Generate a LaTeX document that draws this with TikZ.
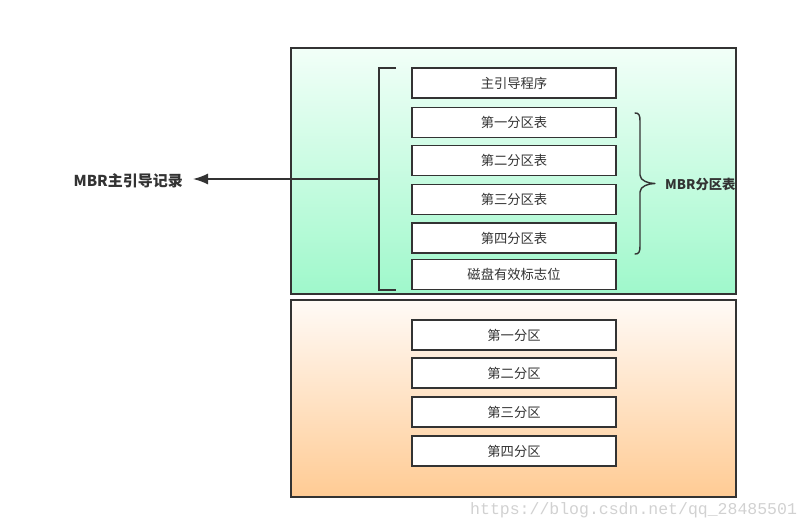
\documentclass[tikz,border=0pt]{standalone}
\usepackage{fontspec}
\setmainfont{Noto Sans CJK SC}
\newfontfamily\urlfont{Liberation Mono}
\usetikzlibrary{arrows.meta}

\definecolor{ink}{HTML}{333333}
\definecolor{mintTop}{HTML}{F2FFF8}
\definecolor{mintBot}{HTML}{9FF8CB}
\definecolor{peachTop}{HTML}{FFFAF6}
\definecolor{peachBot}{HTML}{FFCB94}

\tikzset{
    panel/.style={draw=ink, line width=1.3pt, minimum width=445pt, minimum height=246pt, inner sep=0pt},
    cell/.style={draw=ink, line width=1.9pt, fill=white, minimum width=204pt, minimum height=30pt,
        inner sep=0pt, text=ink, font=\fontsize{13.3}{15}\selectfont},
    tag/.style={text=ink, font=\fontsize{15}{17}\selectfont\bfseries, inner sep=0pt}
}

\begin{document}
\begin{tikzpicture}[x=1pt, y=-1pt]
    \useasboundingbox (0,0) rectangle (812,530);
    % the two panels
    \node[panel, top color=mintTop, bottom color=mintBot] (mbr) at (513.5,171) {};
    \node[panel, minimum height=197pt, top color=peachTop, bottom color=peachBot] (disk) at (513.5,398.5) {};
    % MBR contents
    \node[cell] (boot) at (514,83) {主引导程序};
    \node[cell] (pt1) at (514,122.5) {第一分区表};
    \node[cell] (pt2) at (514,160.5) {第二分区表};
    \node[cell] (pt3) at (514,199.5) {第三分区表};
    \node[cell] (pt4) at (514,238) {第四分区表};
    \node[cell] (flag) at (514,274.5) {磁盘有效标志位};
    % partitions
    \foreach \i/\y/\name in {1/335/第一分区, 2/373/第二分区, 3/412/第三分区, 4/451/第四分区}
        \node[cell] (part\i) at (514,\y) {\name};
    % left bracket and arrow
    \node[tag, anchor=east] (title) at (183,181) {MBR主引导记录};
    \coordinate (bt) at (396,68);
    \coordinate (bb) at (396,290);
    \coordinate (bm) at (379,179);
    \draw[ink, line width=1.5pt] (bt) -- ++(-17,0) -- ++(0,222) -- (bb);
    \draw[ink, line width=1.5pt, -{Latex[length=15pt, width=11pt]}] (bm) -- ([xshift=10pt]title.east |- bm);
    % right brace
    \coordinate (rt) at (635,113);
    \coordinate (rb) at (635,254);
    \coordinate (rm) at (655,183.5);
    \draw[ink, line width=1.4pt, line cap=round]
        (rt) .. controls ++(4,0) and ++(0,-6) .. ++(5,8) -- (640,175)
        .. controls ++(0,6) and ++(-6,0) .. (rm)
        (rm) .. controls ++(-6,0) and ++(0,-6) .. (640,192) -- (640,246)
        .. controls ++(0,6) and ++(4,0) .. (rb);
    \node[tag, anchor=west, font=\fontsize{13.3}{15}\selectfont\bfseries] (ptlabel) at (665,184) {MBR分区表};
    \node[anchor=west, text=black!18, inner sep=0pt, font=\urlfont\fontsize{16.5}{18}\selectfont] (mark) at (470,510) {https://blog.csdn.net/qq\_28485501};
\end{tikzpicture}
\end{document}
